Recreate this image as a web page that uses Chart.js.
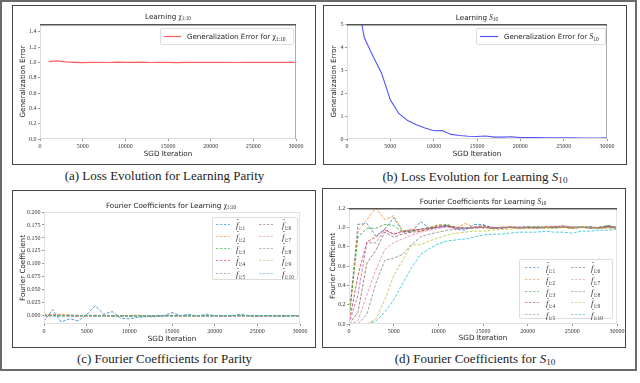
<!DOCTYPE html>
<html><head><meta charset="utf-8">
<script src="https://cdn.jsdelivr.net/npm/chart.js@4"></script>
<style>
body{margin:0;width:640px;height:383px;background:#fff;position:relative;overflow:hidden;font-family:'DejaVu Sans',sans-serif;}
#outer{position:absolute;left:0;top:0;width:637px;height:371px;border:2px solid #6a6a6a;box-sizing:border-box;}
.frame{position:absolute;border:1.5px solid #444;box-sizing:border-box;}
canvas{position:absolute;}
.cap{position:absolute;font-family:'Liberation Serif',serif;font-size:13px;font-weight:normal;color:#222;white-space:nowrap;transform:translate(-50%,-50%);line-height:1;}
.ttl{position:absolute;font-size:7.2px;color:#222;white-space:nowrap;transform:translate(-50%,-50%);line-height:1;}
.m{font-family:'Liberation Serif',serif;font-style:italic;}
.cap sub{font-size:70%;vertical-align:-0.25em;line-height:0;font-style:normal}
.ttl sub,.leg sub{font-size:72%;vertical-align:-0.3em;line-height:0;}
.leg{position:absolute;border:1px solid #ddd;border-radius:2px;background:rgba(255,255,255,0.92);box-sizing:border-box;}
.item{position:absolute;white-space:nowrap;font-size:7.1px;color:#222;line-height:1;transform:translateY(-50%);}
.fl{font-family:'Liberation Serif',serif;font-style:italic;font-size:8.6px;color:#333;}
.fl sub{font-size:62%;vertical-align:-0.35em;}
.hat{position:relative;display:inline-block;}
.hat i{position:absolute;left:0.12em;top:-0.42em;font-style:normal;font-size:80%;}
svg{position:absolute;overflow:visible;}
</style></head><body>
<div id="outer"></div>
<div class="frame" style="left:12px;top:5px;width:304px;height:160px"></div>
<div class="frame" style="left:323px;top:5px;width:304px;height:160px"></div>
<div class="frame" style="left:12px;top:190px;width:304px;height:158px"></div>
<div class="frame" style="left:322px;top:188px;width:304px;height:160px"></div>
<canvas id="cA" width="304" height="160" style="left:12px;top:5px"></canvas>
<canvas id="cB" width="304" height="160" style="left:323px;top:5px"></canvas>
<canvas id="cC" width="304" height="158" style="left:12px;top:190px"></canvas>
<canvas id="cD" width="304" height="160" style="left:322px;top:188px"></canvas>

<div class="ttl" style="left:168px;top:17px">Learning <span class="m" style="font-style:normal">χ<sub>1:10</sub></span></div>
<div class="ttl" style="left:477px;top:18px">Learning <span class="m">S<sub style="font-style:normal">10</sub></span></div>
<div class="ttl" style="left:171px;top:206px">Fourier Coefficients for Learning <span class="m" style="font-style:normal">χ<sub>1:10</sub></span></div>
<div class="ttl" style="left:483px;top:202px">Fourier Coefficients for Learning <span class="m">S<sub style="font-style:normal">10</sub></span></div>

<div class="cap" style="left:164.5px;top:175px">(a) Loss Evolution for Learning Parity</div>
<div class="cap" style="left:475px;top:176px">(b) Loss Evolution for Learning <i>S</i><sub>10</sub></div>
<div class="cap" style="left:164.5px;top:358px">(c) Fourier Coefficients for Parity</div>
<div class="cap" style="left:475px;top:358px">(d) Fourier Coefficients for <i>S</i><sub>10</sub></div>

<div id="legA" class="leg" style="left:160px;top:28px;width:134px;height:17px"></div>
<div id="legB" class="leg" style="left:476px;top:28px;width:130px;height:17px"></div>
<div id="legC" class="leg" style="left:212px;top:217px;width:86px;height:63px"></div>
<div id="legD" class="leg" style="left:519px;top:259px;width:94px;height:60px"></div>

<script>
// ---------- data ----------
const iters = [0,1000,2000,3000,4000,5000,6000,7000,8000,9000,10000,11000,12000,13000,14000,15000,16000,17000,18000,19000,20000,21000,22000,23000,24000,25000,26000,27000,28000,29000,30000];
const lossIters = [1000,2000,3000,4000,5000,6000,7000,8000,9000,10000,11000,12000,13000,14000,15000,16000,17000,18000,19000,20000,21000,22000,23000,24000,25000,26000,27000,28000,29000,30000];
const parityLoss = [1.01,1.02,1.005,1.0,0.995,1.0,1.0,0.998,1.002,1.0,1.0,1.003,0.998,1.0,1.0,0.997,1.0,1.0,1.001,0.999,1.0,1.0,0.998,1.0,1.0,0.999,1.0,1.0,0.999,1.0];
const symLoss = [6.4,4.4,3.6,2.85,1.7,1.1,0.8,0.62,0.48,0.36,0.37,0.2,0.15,0.12,0.11,0.13,0.08,0.08,0.1,0.06,0.06,0.06,0.05,0.05,0.05,0.05,0.04,0.04,0.04,0.05];

const parityCoef1 = [-0.011,0.012,-0.012,-0.006,-0.010,0.002,0.019,0.003,0.008,-0.005,-0.006,-0.003,-0.002,-0.002,0.000,0.006,0.000,0.003,-0.001,0.003,0.000,-0.001,0.000,0.003,0.000,-0.001,0.000,0.000,-0.001,0.000,0.000];
const parityCoef2 = [0.003,0.002,0.003,0.001,0.000,0.000,0.001,0.000,-0.001,0.000,0.000,0.000,0.000,0.000,0.000,0.001,0.000,0.000,0.000,0.000,0.000,0.000,0.000,0.000,0.000,0.000,0.000,0.000,0.000,0.000,0.000];
const parityCoef3 = [0.001,0.000,0.000,0.001,0.000,0.001,0.000,0.000,0.000,0.000,0.000,0.001,0.000,0.000,0.000,0.000,0.000,0.000,0.000,0.000,0.000,0.000,0.000,0.000,0.000,0.000,0.000,0.000,0.000,0.000,0.000];
const parityCoef4 = [0.000,0.001,0.000,0.000,-0.001,0.000,0.000,0.001,0.000,0.000,0.000,0.000,0.000,0.000,0.000,0.000,0.000,0.000,0.000,0.000,0.000,0.000,0.000,0.000,0.000,0.000,0.000,0.000,0.000,0.000,0.000];
const parityCoef5 = [0.000,0.000,0.001,0.000,0.000,0.000,-0.001,0.000,0.000,0.000,0.000,0.000,0.000,0.000,0.000,0.000,0.000,0.000,0.000,0.000,0.000,0.000,0.000,0.000,0.000,0.000,0.000,0.000,0.000,0.000,0.000];
const parityCoef6 = [0.001,0.000,0.000,0.000,0.000,0.001,0.000,0.000,0.000,0.000,0.000,0.000,0.000,0.000,0.000,0.000,0.000,0.000,0.000,0.000,0.000,0.000,0.000,0.000,0.000,0.000,0.000,0.000,0.000,0.000,0.000];
const parityCoef7 = [0.000,0.000,0.000,0.000,0.001,0.000,0.000,0.000,0.000,0.000,0.000,0.000,0.000,0.000,0.000,0.000,0.000,0.000,0.000,0.000,0.000,0.000,0.000,0.000,0.000,0.000,0.000,0.000,0.000,0.000,0.000];
const parityCoef8 = [0.000,0.001,0.000,0.000,0.000,0.000,0.000,0.000,0.000,0.000,0.000,0.000,0.000,0.000,0.000,0.000,0.000,0.000,0.000,0.000,0.000,0.000,0.000,0.000,0.000,0.000,0.000,0.000,0.000,0.000,0.000];
const parityCoef9 = [0.000,0.000,0.000,0.001,0.000,0.000,0.000,0.000,0.000,0.000,0.000,0.000,0.000,0.000,0.000,0.000,0.000,0.000,0.000,0.000,0.000,0.000,0.000,0.000,0.000,0.000,0.000,0.000,0.000,0.000,0.000];
const parityCoef10 = [0.000,0.000,0.000,0.000,0.000,0.000,0.000,0.000,0.000,-0.001,-0.001,-0.001,-0.001,0.000,0.000,0.000,0.000,0.000,0.000,0.000,0.000,0.000,0.000,0.001,0.000,0.000,0.000,0.000,0.000,0.000,0.000];

const symCoef1 = [0.05,1.03,1.04,0.91,0.98,1.10,0.96,0.95,1.06,0.99,1.0,1.02,0.98,0.97,1.03,1.03,0.99,0.99,1.0,1.0,1.01,0.99,1.0,1.01,1.0,0.99,1.0,1.01,0.99,1.02,0.99];
const symCoef2 = [0.05,0.96,1.08,1.2,1.08,1.12,0.96,0.98,0.96,0.99,1.03,1.01,0.99,1.04,1.0,0.99,1.0,0.99,1.01,1.0,1.0,0.99,1.01,1.0,1.01,1.0,1.0,0.99,1.0,1.0,0.99];
const symCoef3 = [0.05,0.9,0.99,0.99,1.03,1.02,0.95,0.96,0.98,1.0,1.02,1.03,1.0,0.99,1.0,1.01,0.99,1.0,1.0,0.99,1.0,1.01,1.0,0.99,1.0,1.0,1.01,0.99,1.0,1.02,1.0];
const symCoef4 = [0.0,0.5,0.85,0.9,0.98,0.93,0.96,0.97,0.98,0.99,1.01,1.02,0.99,0.99,1.0,1.02,1.0,0.99,1.0,1.0,0.99,1.0,1.0,1.01,1.0,0.99,1.0,1.0,1.0,1.01,0.99];
const symCoef5 = [0.0,0.3,0.84,0.84,0.97,0.93,0.95,0.97,0.98,0.99,1.0,1.01,1.0,0.99,1.0,1.0,1.0,0.99,1.0,1.0,1.0,0.99,1.0,1.0,1.01,1.0,1.0,0.99,1.0,1.0,0.99];
const symCoef6 = [0.0,0.12,0.63,0.76,0.95,0.9,0.93,0.95,0.96,0.98,1.0,1.01,1.0,0.99,0.99,1.0,0.99,1.0,1.0,0.99,1.0,1.0,0.99,1.0,1.0,1.0,1.0,1.0,0.99,1.01,1.0];
const symCoef7 = [0.0,0.03,0.3,0.56,0.77,0.84,0.88,0.92,0.95,0.97,0.99,1.0,0.99,0.99,1.0,1.0,0.99,1.0,1.0,1.0,1.0,1.0,1.0,1.01,1.01,1.0,1.0,1.0,0.99,1.0,1.0];
const symCoef8 = [0.0,0.0,0.1,0.42,0.66,0.68,0.72,0.82,0.9,0.93,0.95,0.97,0.98,0.99,1.0,1.0,0.99,1.0,1.0,0.99,1.0,1.0,1.0,1.0,1.02,1.0,1.0,1.0,0.99,1.0,1.0];
const symCoef9 = [0.0,0.0,0.0,0.05,0.25,0.5,0.66,0.82,0.82,0.86,0.89,0.92,0.94,0.95,0.96,0.96,0.97,0.98,0.98,0.99,0.99,0.99,1.0,0.99,1.0,0.99,1.0,1.0,0.99,0.99,0.99];
const symCoef10 = [0.0,0.0,0.0,0.03,0.12,0.25,0.42,0.58,0.72,0.78,0.83,0.86,0.87,0.88,0.9,0.92,0.93,0.93,0.94,0.95,0.95,0.95,0.96,0.95,0.95,0.94,0.96,0.96,0.97,0.97,0.98];

const xTicks = [0,5000,10000,15000,20000,25000,30000];
const yTicksA = [0,0.2,0.4,0.6,0.8,1.0,1.2,1.4];
const yTicksB = [0,1,2,3,4,5];
const yTicksC = [0,0.025,0.05,0.075,0.1,0.125,0.15,0.175,0.2];
const yTicksD = [0,0.2,0.4,0.6,0.8,1.0,1.2];
const coefNames = ['1:1','1:2','1:3','1:4','1:5','1:6','1:7','1:8','1:9','1:10'];
const palette = ['#1f77b4','#ff7f0e','#2ca02c','#d62728','#9467bd','#8c564b','#e377c2','#7f7f7f','#bcbd22','#17becf'];
const parityCoefs = [parityCoef1,parityCoef2,parityCoef3,parityCoef4,parityCoef5,parityCoef6,parityCoef7,parityCoef8,parityCoef9,parityCoef10];
const symCoefs = [symCoef1,symCoef2,symCoef3,symCoef4,symCoef5,symCoef6,symCoef7,symCoef8,symCoef9,symCoef10];

// ---------- helpers ----------
function hexA(h,a){const n=parseInt(h.slice(1),16);return `rgba(${n>>16},${(n>>8)&255},${n&255},${a})`;}
const boxPlugin = {
  id:'box',
  afterDraw(chart,args,o){
    const {ctx,chartArea:a}=chart;
    ctx.save();
    ctx.lineWidth=1;
    ctx.strokeStyle=o.side||'#dcdcdc';
    ctx.strokeRect(a.left+0.5,a.top+0.5,a.right-a.left-1,a.bottom-a.top-1);
    if(o.right){ctx.strokeStyle=o.right;ctx.beginPath();ctx.moveTo(a.right-0.5,a.top);ctx.lineTo(a.right-0.5,a.bottom);ctx.stroke();}
    if(o.top){ctx.strokeStyle=o.top;ctx.lineWidth=1.5;ctx.beginPath();ctx.moveTo(a.left,a.top+0.75);ctx.lineTo(a.right,a.top+0.75);ctx.stroke();}
    ctx.restore();
  }
};
function makeChart(id,p){
  const W=p.W,H=p.H;
  const tickFont={family:"'Liberation Serif', serif",size:6,lineHeight:1.2};
  const titleFont={family:"'DejaVu Sans', sans-serif",size:7.2,lineHeight:1};
  return new Chart(document.getElementById(id),{
    type:'line',
    data:{datasets:p.datasets},
    plugins:[boxPlugin],
    options:{
      responsive:false,animation:false,devicePixelRatio:1,
      layout:{padding:{left:p.yTitleX-3.6,top:p.plot[1],right:W-p.plot[2],bottom:0}},
      plugins:{legend:{display:false},tooltip:{enabled:false},box:p.box||{}},
      elements:{point:{radius:0},line:{tension:0}},
      scales:{
        x:{type:'linear',min:0,max:30000,
          afterBuildTicks:s=>{s.ticks=xTicks.map(v=>({value:v}));},
          afterFit:s=>{s.height=H-p.plot[3];s.paddingLeft=0;s.paddingRight=0;},
          ticks:{font:tickFont,color:'#333',padding:1.5,maxRotation:0,autoSkip:false,callback:v=>String(v)},
          grid:{display:true,drawOnChartArea:false,drawTicks:true,tickLength:2,color:'#999'},
          border:{display:false},
          title:{display:true,text:'SGD Iteration',font:titleFont,color:'#222',padding:{top:0,bottom:H-p.xTitleY-3.6}}
        },
        y:{type:'linear',min:p.ymin,max:p.ymax,
          afterBuildTicks:s=>{s.ticks=p.yTicks.map(v=>({value:v}));},
          afterFit:s=>{s.width=p.plot[0]-(p.yTitleX-3.6);s.paddingTop=0;s.paddingBottom=0;},
          ticks:{font:tickFont,color:'#333',padding:1.5,autoSkip:false,callback:v=>p.fmt(v)},
          grid:{display:true,drawOnChartArea:false,drawTicks:true,tickLength:2,color:'#999'},
          border:{display:false},
          title:{display:true,text:p.yTitle,font:titleFont,color:'#222',padding:{top:0,bottom:0}}
        }
      }
    }
  });
}
const pts=(xs,ys)=>xs.map((x,i)=>({x:x,y:ys[i]}));

// (a)
makeChart('cA',{W:304,H:160,plot:[28,19,284,134],yTitleX:11.5,xTitleY:149,ymin:0,ymax:1.5,yTicks:yTicksA,fmt:v=>v.toFixed(1),
  yTitle:'Generalization Error',box:{top:'#555',right:'#aaa'},
  datasets:[{data:pts(lossIters,parityLoss),borderColor:'rgba(255,40,40,0.75)',borderWidth:1.2}]});
// (b)
makeChart('cB',{W:304,H:160,plot:[24,19,284,134],yTitleX:11.5,xTitleY:149,ymin:0,ymax:5,yTicks:yTicksB,fmt:v=>String(v),
  yTitle:'Generalization Error',box:{top:'#555',right:'#aaa'},
  datasets:[{data:pts(lossIters,symLoss),borderColor:'rgba(40,40,255,0.8)',borderWidth:1.1}]});
// (c)
makeChart('cC',{W:304,H:158,plot:[32,22,288,134],yTitleX:11.3,xTitleY:149,ymin:-0.016,ymax:0.2,yTicks:yTicksC,fmt:v=>v.toFixed(3),
  yTitle:'Fourier Coefficient',box:{side:'#e2e2e2'},
  datasets:parityCoefs.map((d,i)=>({data:pts(iters,d),borderColor:hexA(palette[i],0.75),borderWidth:1,borderDash:[3,1.5],order:9-i}))});
// (d)
makeChart('cD',{W:304,H:160,plot:[27,20,295,136],yTitleX:11.3,xTitleY:150.3,ymin:0,ymax:1.2,yTicks:yTicksD,fmt:v=>v.toFixed(1),
  yTitle:'Fourier Coefficient',box:{top:'#555',side:'#e2e2e2'},
  datasets:symCoefs.map((d,i)=>({data:pts(iters,d),borderColor:hexA(palette[i],0.75),borderWidth:1,borderDash:[3,1.5],order:9-i}))});

// ---------- legends ----------
function swatch(x,y,len,color,dash){
  return `<svg style="left:${x}px;top:${y}px" width="${len}" height="1"><line x1="0" y1="0.5" x2="${len}" y2="0.5" stroke="${color}" stroke-width="1.2" ${dash?'stroke-dasharray="2.5,1.5"':''}/></svg>`;
}
document.getElementById('legA').innerHTML = swatch(3,6.5,17,'rgba(255,40,40,0.75)',false)+
  `<div class="item" style="left:26px;top:7.5px">Generalization Error for <span class="m" style="font-style:normal;font-size:7.6px">χ<sub>1:10</sub></span></div>`;
document.getElementById('legB').innerHTML = swatch(3,6.5,18,'rgba(40,40,255,0.8)',false)+
  `<div class="item" style="left:27px;top:7.5px">Generalization Error for <span class="m" style="font-size:7.6px">S<sub style="font-style:normal">10</sub></span></div>`;
function coefLegend(id,c1x,c2x,len,tx1,tx2,row0,step){
  let h='';
  coefNames.forEach((n,i)=>{
    const col=i<5?0:1, r=i%5;
    const y=row0+r*step;
    h+=swatch(col?c2x:c1x,y-0.5,len,hexA(palette[i],0.55),true);
    h+=`<div class="item fl" style="left:${col?tx2:tx1}px;top:${y+0.5}px"><span class="hat">f<i>ˆ</i></span><sub style="font-style:normal">${n}</sub></div>`;
  });
  document.getElementById(id).innerHTML=h;
}
coefLegend('legC',3,46,14,23,69,6,12.3);
coefLegend('legD',5,51,14,26,71,7.5,11.8);
</script>
</body></html>
